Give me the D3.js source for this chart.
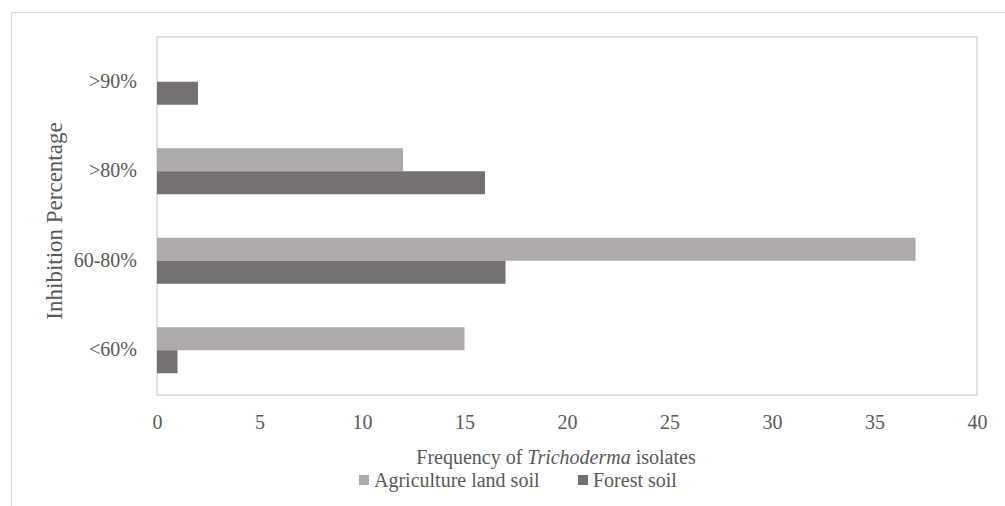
<!DOCTYPE html>
<html><head><meta charset="utf-8">
<script src="https://cdn.jsdelivr.net/npm/d3@7"></script>
<style>body{margin:0;background:#fff}svg{display:block}text{font-family:"Liberation Serif","Times New Roman",serif;fill:#595959}</style>
</head><body>
<script>
const categories = ["<60%", "60-80%", ">80%", ">90%"];
const seriesNames = ["Agriculture land soil", "Forest soil"];
const agriculture = [15, 37, 12, 0];
const forest = [1, 17, 16, 2];
const xTicks = [0, 5, 10, 15, 20, 25, 30, 35, 40];
const colors = ["#aeaaaa", "#767171"];

const W = 1005, H = 506;
const FS = "20px";
const svg = d3.select("body").append("svg").attr("width", W).attr("height", H);

// outer chart border (top & left visible)
svg.append("line").attr("x1", 11).attr("x2", W).attr("y1", 12.5).attr("y2", 12.5).attr("stroke", "#d9d9d9");
svg.append("line").attr("x1", 11.5).attr("x2", 11.5).attr("y1", 12).attr("y2", H).attr("stroke", "#d9d9d9");

const L = 157, R = 977, T = 37, B = 395;
const x = d3.scaleLinear().domain([0, 40]).range([L, R]);
const y = d3.scaleBand().domain(categories.slice().reverse()).range([T, B]).paddingInner(0.486).paddingOuter(0.243);
const sub = d3.scaleBand().domain(seriesNames).range([0, y.bandwidth()]);

svg.append("rect").attr("x", L).attr("y", T).attr("width", R - L).attr("height", B - T)
  .attr("fill", "none").attr("stroke", "#d9d9d9").attr("stroke-width", 1.5);

const data = categories.map((c, i) => ({c, vals: [agriculture[i], forest[i]]}));
const g = svg.append("g");
data.forEach(d => {
  d.vals.forEach((v, j) => {
    if (v <= 0) return;
    g.append("rect").attr("x", x(0)).attr("y", y(d.c) + sub(seriesNames[j]))
      .attr("width", x(v) - x(0)).attr("height", sub.bandwidth()).attr("fill", colors[j]);
  });
});

// x axis labels
const xa = svg.append("g").attr("transform", `translate(0,${B})`)
  .call(d3.axisBottom(x).tickValues(xTicks).tickSize(0).tickPadding(19));
xa.select(".domain").remove();
xa.selectAll("text").attr("dy", null).attr("y", 34).style("font-size", FS).style("font-family", "Liberation Serif").attr("fill", "#595959");

// y axis labels
const ya = svg.append("g").attr("transform", `translate(${L},0)`)
  .call(d3.axisLeft(y).tickSize(0).tickPadding(20));
ya.select(".domain").remove();
ya.selectAll("text").attr("dy", "0.3em").style("font-size", FS).style("font-family", "Liberation Serif").attr("fill", "#595959");

// axis titles
const xt = svg.append("text").attr("x", 556).attr("y", 464).attr("text-anchor", "middle").style("font-size", FS);
xt.append("tspan").text("Frequency of ");
xt.append("tspan").attr("font-style", "italic").text("Trichoderma");
xt.append("tspan").text(" isolates");

svg.append("text").attr("transform", "translate(62,221) rotate(-90)").attr("text-anchor", "middle")
  .style("font-size", "23px").text("Inhibition Percentage");

// legend
const legX = [359, 578];
seriesNames.forEach((s, j) => {
  svg.append("rect").attr("x", legX[j]).attr("y", 475).attr("width", 10).attr("height", 10).attr("fill", colors[j]);
  svg.append("text").attr("x", legX[j] + 15).attr("y", 487).style("font-size", FS).text(s);
});
</script>
</body></html>
